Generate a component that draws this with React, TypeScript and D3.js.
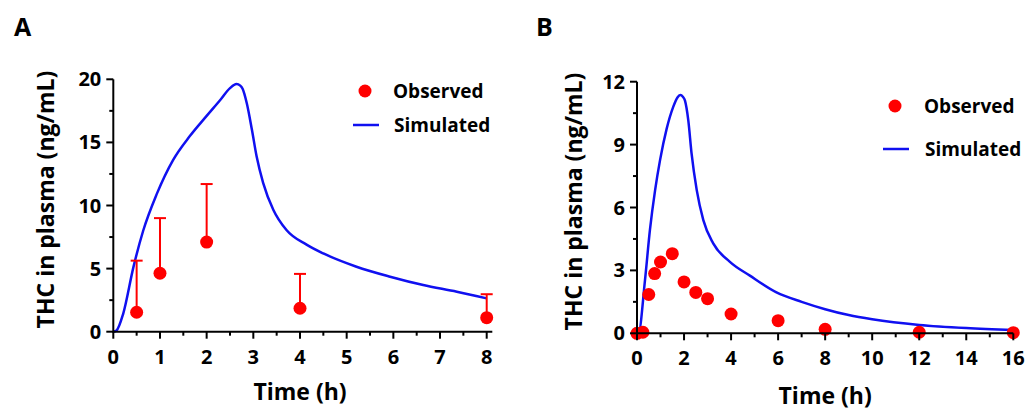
import React from "react";
import * as d3 from "d3";

// Panel A data
const obsTimeA = [0.5, 1, 2, 4, 8];
const obsValA = [1.54, 4.63, 7.1, 1.86, 1.11];
const obsErrTopA = [5.63, 9.0, 11.7, 4.58, 2.97];
const simTimeA = [0, 0.07, 0.21, 0.43, 0.64, 0.93, 1.28, 1.64, 2.0, 2.3, 2.5, 2.64, 2.72, 2.77, 2.86, 2.97, 3.07, 3.21, 3.43, 3.71, 4.14, 4.5, 5.21, 5.93, 6.64, 7.36, 8.0];
const simValA = [0, 0.1, 1.4, 5.1, 8.0, 10.9, 13.6, 15.5, 17.1, 18.4, 19.3, 19.63, 19.5, 19.25, 18.1, 16.0, 13.9, 11.8, 9.65, 8.06, 6.9, 6.2, 5.15, 4.36, 3.7, 3.17, 2.64];
const xTicksA = [0, 1, 2, 3, 4, 5, 6, 7, 8];
const yTicksA = [0, 5, 10, 15, 20];

// Panel B data
const obsTimeB = [0, 0.25, 0.5, 0.75, 1, 1.5, 2, 2.5, 3, 4, 6, 8, 12, 16];
const obsValB = [0, 0.05, 1.85, 2.85, 3.4, 3.8, 2.45, 1.95, 1.65, 0.92, 0.6, 0.19, 0.05, 0.03];
const simTimeB = [0, 0.06, 0.34, 0.55, 0.77, 0.98, 1.26, 1.54, 1.72, 1.84, 1.95, 2.04, 2.18, 2.32, 2.54, 2.82, 3.24, 3.95, 4.8, 5.93, 7.0, 8.0, 9.0, 10.0, 12.0, 14.0, 16.0];
const simValB = [0, 0, 2.54, 4.93, 6.83, 8.26, 9.75, 10.8, 11.25, 11.36, 11.28, 11.1, 10.17, 8.58, 6.83, 5.4, 4.29, 3.41, 2.75, 1.95, 1.5, 1.15, 0.87, 0.67, 0.4, 0.25, 0.16];
const xTicksB = [0, 2, 4, 6, 8, 10, 12, 14, 16];
const yTicksB = [0, 3, 6, 9, 12];

const FONT = "'Open Sans', sans-serif";
const RED = "#ff0000";
const BLUE = "#1010f0";

type PanelProps = {
  letter: string;
  letterX: number;
  x: d3.ScaleLinear<number, number>;
  y: d3.ScaleLinear<number, number>;
  xTicks: number[];
  xMinor: number[];
  yTicks: number[];
  yMinor: number[];
  xEnd: number;
  simT: number[];
  simV: number[];
  obsT: number[];
  obsV: number[];
  errTop?: number[];
  legend: { dotX: number; dotY: number; textX: number; lineX1: number; lineX2: number; lineY: number };
  yLabelX: number;
  xLabelY: number;
};

function Panel(p: PanelProps) {
  const [x0] = p.x.range();
  const [y0, y1] = p.y.range();
  const line = d3
    .line<number>()
    .x((_, i) => p.x(p.simT[i]))
    .y((v) => p.y(v))
    .curve(d3.curveMonotoneX);
  const yMid = (y0 + y1) / 2;
  const xMid = (p.x.range()[0] + p.x.range()[1]) / 2;
  return (
    <g>
      <text x={p.letterX} y={36} fontFamily={FONT} fontWeight={700} fontSize={25}>{p.letter}</text>
      <path d={line(p.simV) || ""} fill="none" stroke={BLUE} strokeWidth={2.5} />
      {p.errTop &&
        p.obsT.map((t, i) => (
          <g key={"e" + i} stroke={RED} strokeWidth={2}>
            <line x1={p.x(t)} x2={p.x(t)} y1={p.y(p.obsV[i])} y2={p.y(p.errTop![i])} />
            <line x1={p.x(t) - 6} x2={p.x(t) + 6} y1={p.y(p.errTop![i])} y2={p.y(p.errTop![i])} />
          </g>
        ))}
      {p.obsT.map((t, i) => (
        <circle key={"o" + i} cx={p.x(t)} cy={p.y(p.obsV[i])} r={6.5} fill={RED} />
      ))}
      <line x1={x0} x2={p.xEnd} y1={y0} y2={y0} stroke="#000" strokeWidth={2} />
      <line x1={x0} x2={x0} y1={y0 + 1} y2={y1} stroke="#000" strokeWidth={2} />
      {p.xTicks.map((t) => (
        <g key={"xt" + t}>
          <line x1={p.x(t)} x2={p.x(t)} y1={y0} y2={y0 + 7} stroke="#000" strokeWidth={2} />
          <text x={p.x(t)} y={y0 + 32} textAnchor="middle" fontFamily={FONT} fontWeight={700} fontSize={20}>{t}</text>
        </g>
      ))}
      {p.xMinor.map((t) => (
        <line key={"xm" + t} x1={p.x(t)} x2={p.x(t)} y1={y0} y2={y0 + 4} stroke="#000" strokeWidth={2} />
      ))}
      {p.yTicks.map((t) => (
        <g key={"yt" + t}>
          <line x1={x0 - 7} x2={x0} y1={p.y(t)} y2={p.y(t)} stroke="#000" strokeWidth={2} />
          <text x={x0 - 12} y={p.y(t) + 7} textAnchor="end" fontFamily={FONT} fontWeight={700} fontSize={20}>{t}</text>
        </g>
      ))}
      {p.yMinor.map((t) => (
        <line key={"ym" + t} x1={x0 - 4} x2={x0} y1={p.y(t)} y2={p.y(t)} stroke="#000" strokeWidth={2} />
      ))}
      <text x={xMid} y={p.xLabelY} textAnchor="middle" fontFamily={FONT} fontWeight={700} fontSize={23}>Time (h)</text>
      <text
        transform={`translate(${p.yLabelX},${yMid - 6}) rotate(-90)`}
        textAnchor="middle"
        dominantBaseline="central"
        fontFamily={FONT}
        fontWeight={700}
        fontSize={23}
      >
        THC in plasma (ng/mL)
      </text>
      <circle cx={p.legend.dotX} cy={p.legend.dotY} r={6.5} fill={RED} />
      <text x={p.legend.textX} y={p.legend.dotY + 7} fontFamily={FONT} fontWeight={700} fontSize={19}>Observed</text>
      <line x1={p.legend.lineX1} x2={p.legend.lineX2} y1={p.legend.lineY} y2={p.legend.lineY} stroke={BLUE} strokeWidth={2.5} />
      <text x={p.legend.textX + 1} y={p.legend.lineY + 7} fontFamily={FONT} fontWeight={700} fontSize={19}>Simulated</text>
    </g>
  );
}

export default function App() {
  const xA = d3.scaleLinear().domain([0, 8]).range([113.3, 486.7]);
  const yA = d3.scaleLinear().domain([0, 20]).range([331.7, 79.3]);
  const xB = d3.scaleLinear().domain([0, 16]).range([637, 1013.3]);
  const yB = d3.scaleLinear().domain([0, 12]).range([333.3, 81.7]);
  const minorA = d3.range(0.5, 8, 1);
  const yMinorA = d3.range(2.5, 20, 5);
  const minorB = d3.range(1, 16, 2);
  const yMinorB = d3.range(1.5, 12, 3);
  return (
    <svg width={1029} height={412} style={{ position: "absolute", left: 0, top: 0, background: "#fff" }}>
      <rect width={1029} height={412} fill="#fff" />
      <Panel
        letter="A"
        letterX={14}
        x={xA}
        y={yA}
        xTicks={xTicksA}
        xMinor={minorA}
        yTicks={yTicksA}
        yMinor={yMinorA}
        xEnd={xA(8.12)}
        simT={simTimeA}
        simV={simValA}
        obsT={obsTimeA}
        obsV={obsValA}
        errTop={obsErrTopA}
        legend={{ dotX: 365, dotY: 91, textX: 393, lineX1: 353, lineX2: 379, lineY: 125 }}
        yLabelX={45}
        xLabelY={400}
      />
      <Panel
        letter="B"
        letterX={536}
        x={xB}
        y={yB}
        xTicks={xTicksB}
        xMinor={minorB}
        yTicks={yTicksB}
        yMinor={yMinorB}
        xEnd={xB(16)}
        simT={simTimeB}
        simV={simValB}
        obsT={obsTimeB}
        obsV={obsValB}
        legend={{ dotX: 895, dotY: 106, textX: 924, lineX1: 883, lineX2: 909, lineY: 149 }}
        yLabelX={573}
        xLabelY={404}
      />
    </svg>
  );
}
